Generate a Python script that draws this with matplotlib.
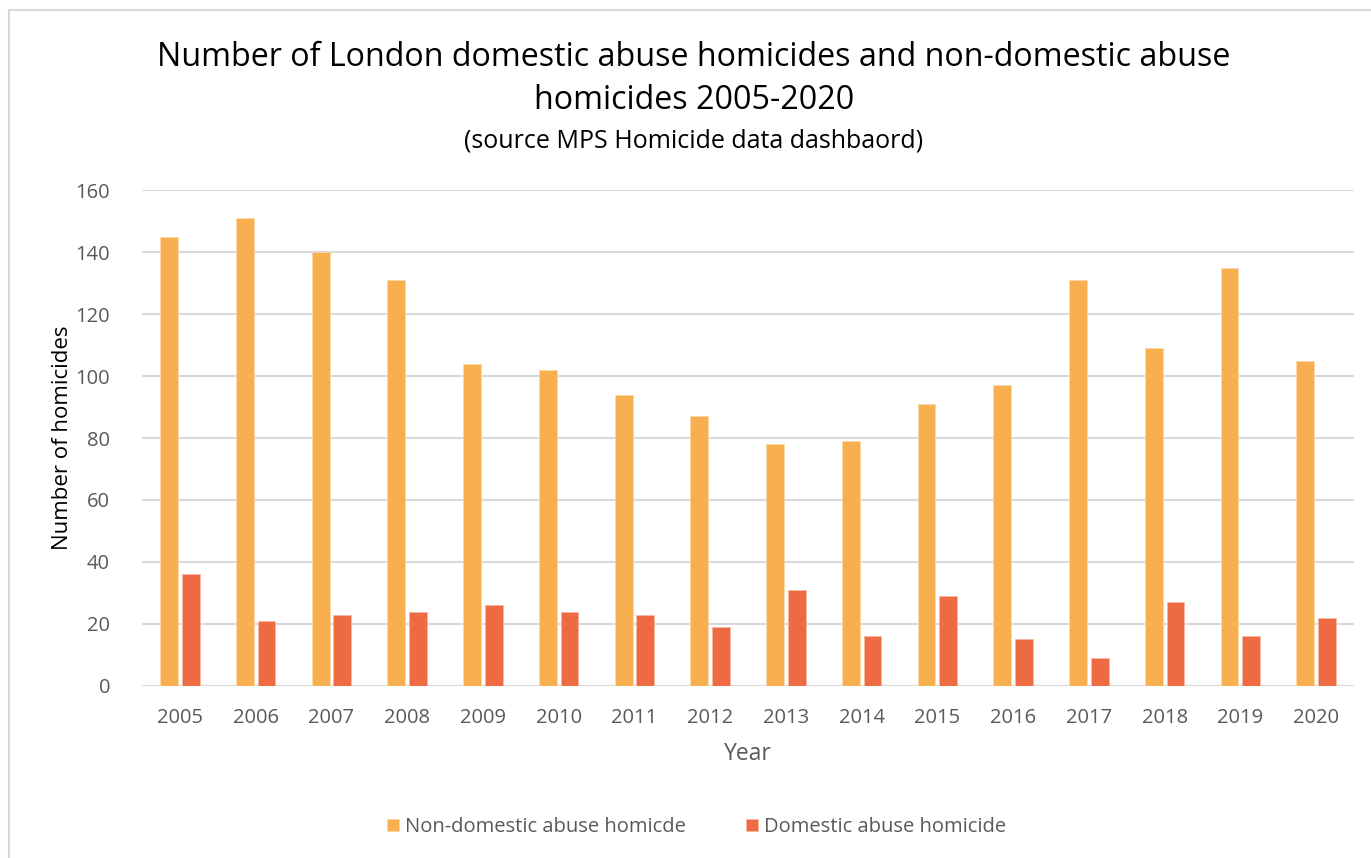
import numpy as np
import matplotlib.pyplot as plt
from matplotlib.patches import Rectangle

# Datos
years = ['2005', '2006', '2007', '2008', '2009', '2010', '2011', '2012',
         '2013', '2014', '2015', '2016', '2017', '2018', '2019', '2020']
non_domestic = [145, 151, 140, 131, 104, 102, 94, 87, 78, 79, 91, 97, 131, 109, 135, 105]
domestic = [36, 21, 23, 24, 26, 24, 23, 19, 31, 16, 29, 15, 9, 27, 16, 22]

plt.rcParams['font.family'] = ['Open Sans', 'DejaVu Sans']

fig = plt.figure(figsize=(13.71, 8.58), dpi=100)
ax = fig.add_axes([0.1036, 0.2005, 0.884, 0.578])

# Marco gris alrededor del grafico
fig.patches.append(Rectangle((9 / 1371, -0.1), 1.2, 1 - 10 / 858 + 0.1,
                             transform=fig.transFigure, fill=False,
                             edgecolor='#d9d9d9', linewidth=1.5))

x = np.arange(len(years))
w = 0.235
ax.bar(x - w / 2 - 0.025, non_domestic, w, color='#F7AF4F', edgecolor='#fbd9a8',
       linewidth=0.6, label='Non-domestic abuse homicde', zorder=3)
ax.bar(x + w / 2 + 0.025, domestic, w, color='#ED6A43', edgecolor='#f6b8a3',
       linewidth=0.6, label='Domestic abuse homicide', zorder=3)

ax.set_xlim(-0.5, len(years) - 0.5)
ax.set_ylim(0, 160)
ax.set_yticks(range(0, 161, 20))
ax.set_xticks(x)
ax.set_xticklabels(years)
ax.grid(axis='y', color='#d9d9d9', linewidth=1.5, zorder=0)
for s in ax.spines.values():
    s.set_visible(False)
ax.tick_params(length=0, labelsize=14.5, colors='#595959')
ax.tick_params(axis='x', pad=16)
ax.tick_params(axis='y', pad=23)

ax.set_xlabel('Year', fontsize=16.5, color='#595959', labelpad=10)
ax.set_ylabel('Number of homicides', fontsize=16, color='black', labelpad=2)

fig.text(0.506, 0.933, 'Number of London domestic abuse homicides and non-domestic abuse',
         ha='center', va='center', fontsize=23.2)
fig.text(0.506, 0.883, 'homicides 2005-2020', ha='center', va='center', fontsize=23.2)
fig.text(0.506, 0.836, '(source MPS Homicide data dashbaord)', ha='center', va='center',
         fontsize=18)

fig.legend(loc='center', bbox_to_anchor=(0.508, 0.036), ncol=2, frameon=False,
           fontsize=14.5, labelcolor='#595959', handlelength=0.6, handleheight=0.6,
           handletextpad=0.3, columnspacing=3.0)

fig.savefig('out.png', dpi=100)
